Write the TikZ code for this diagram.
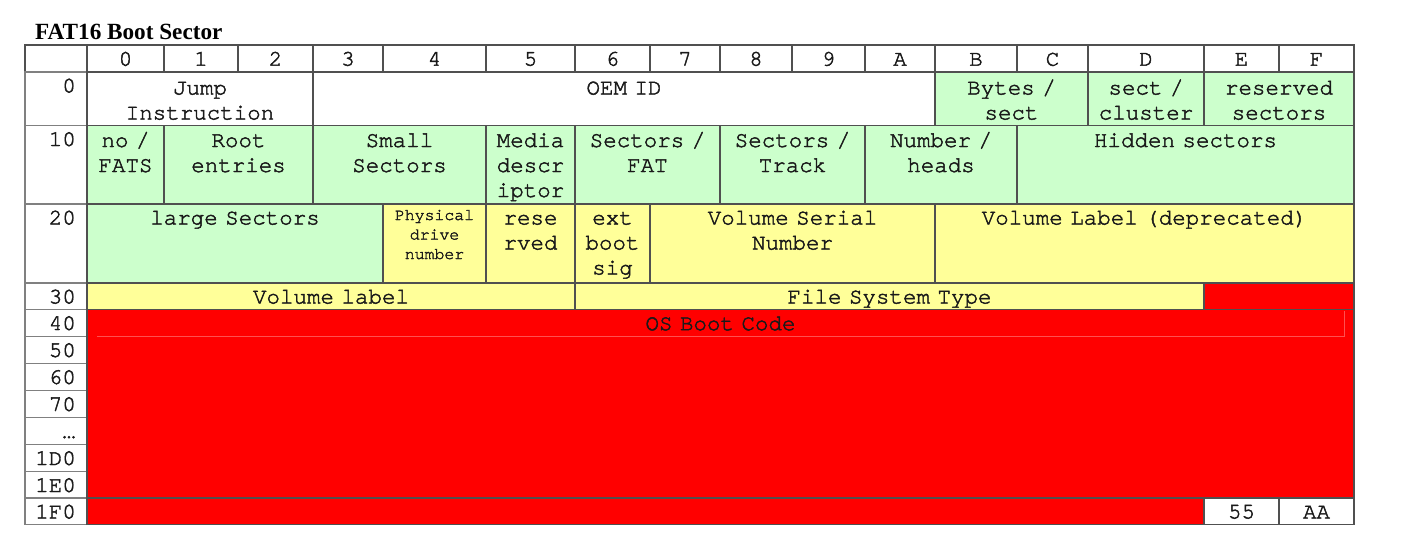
\documentclass[tikz,border=0pt]{standalone}
\usepackage{fontspec}
\newfontfamily\cellfont[FakeBold=2]{TeX Gyre Cursor}
\newfontfamily\headfont{Liberation Serif}
% every space as wide as one character cell
\newcommand\fixedspaces{\spaceskip 0.6em\relax}

\definecolor{fieldgreen}{HTML}{CCFFCC}
\definecolor{fieldyellow}{HTML}{FFFF99}
\definecolor{fieldred}{HTML}{FF0000}
\definecolor{gridline}{HTML}{505050}
\definecolor{labelline}{HTML}{808080}
\definecolor{ink}{HTML}{1A1A1A}
\definecolor{seamred}{HTML}{FF5050}

\tikzset{
  cellbox/.style={draw=gridline, line width=1.5pt, rectangle, inner sep=0pt, outer sep=0pt, anchor=north west},
  labelbox/.style={cellbox, draw=labelline, fill=white},
  celltext/.style={font=\cellfont\fontsize{22.5}{25}\selectfont\fixedspaces, text=ink, inner sep=0pt, align=center, anchor=base},
  smalltext/.style={celltext, font=\cellfont\fontsize{16.5}{19.5}\selectfont\fixedspaces},
  titletext/.style={font=\headfont\bfseries\fontsize{23.2}{27}\selectfont, text=black, inner sep=0pt, anchor=base west},
}

% \field[baseline offset]{name}{x1}{x2}{y1}{y2}{fill}{text style}{text}
\newcommand\field[9][21.5]{%
  \pgfmathsetmacro\fw{#4-#3}%
  \pgfmathsetmacro\fh{#6-#5}%
  \pgfmathsetmacro\fx{(#3+#4)/2}%
  \pgfmathsetmacro\fy{#5+#1}%
  \node[cellbox, fill=#7, minimum width=\fw pt, minimum height=\fh pt] (#2) at (#3,#5) {};
  \node[#8, text width=\fw pt] (#2-text) at (\fx,\fy) {#9};
}

% \rowlabel{name}{y1}{y2}{offset text}
\newcommand\rowlabel[4]{%
  \pgfmathsetmacro\fh{#3-#2}%
  \pgfmathsetmacro\fy{#2+20.5}%
  \node[labelbox, minimum width=62pt, minimum height=\fh pt] (#1) at (25,#2) {};
  \node[celltext, anchor=base east] (#1-text) at (76,\fy) {#4};
}

\begin{document}
\begin{tikzpicture}[x=1pt, y=-1pt]
\useasboundingbox[fill=white] (0,0) rectangle (1413,538);

\node[titletext] (title) at (35,39.3) {FAT16 Boot Sector};

% column header
\field[20.7]{corner}{25}{87}{45}{72}{white}{celltext}{}
\foreach \n/\a/\b in {0/87/164, 1/164/238, 2/238/313, 3/313/383, 4/383/486,
    5/486/575, 6/575/650, 7/650/720, 8/720/792, 9/792/865, A/865/935,
    B/935/1017, C/1017/1088, D/1088/1204, E/1204/1279, F/1279/1354}
  {\field[20.7]{h\n}{\a}{\b}{45}{72}{white}{celltext}{\n}}

% row offsets
\foreach \n/\a/\b/\t in {r00/72/125.5/0, r10/125.5/204/10, r20/204/283/20,
    r30/283/309.5/30, r40/309.5/336.5/40, r50/336.5/363.5/50, r60/363.5/390.5/60,
    r70/390.5/417.5/70, rdots/417.5/444.5/…, r1D0/444.5/471.5/1D0,
    r1E0/471.5/498/1E0, r1F0/498/524.5/1F0}
  {\rowlabel{\n}{\a}{\b}{\t}}

% offset 0x00
\field[22.5]{jump}{87}{313}{72}{125.5}{white}{celltext}{Jump\\Instruction}
\field[22.5]{oemid}{313}{935}{72}{125.5}{white}{celltext}{OEM ID}
\field[22.5]{bytespersect}{935}{1088}{72}{125.5}{fieldgreen}{celltext}{Bytes /\\sect}
\field[22.5]{sectpercluster}{1088}{1204}{72}{125.5}{fieldgreen}{celltext}{sect /\\cluster}
\field[22.5]{reserved}{1204}{1354}{72}{125.5}{fieldgreen}{celltext}{reserved\\sectors}

% offset 0x10
\field{nofats}{87}{164}{125.5}{204}{fieldgreen}{celltext}{no /\\FATS}
\field{rootentries}{164}{313}{125.5}{204}{fieldgreen}{celltext}{Root\\entries}
\field{smallsectors}{313}{486}{125.5}{204}{fieldgreen}{celltext}{Small\\Sectors}
\field{media}{486}{575}{125.5}{204}{fieldgreen}{celltext}{Media\\descr\\iptor}
\field{sectfat}{575}{720}{125.5}{204}{fieldgreen}{celltext}{Sectors /\\FAT}
\field{secttrack}{720}{865}{125.5}{204}{fieldgreen}{celltext}{Sectors /\\Track}
\field{heads}{865}{1017}{125.5}{204}{fieldgreen}{celltext}{Number /\\heads}
\field{hidden}{1017}{1354}{125.5}{204}{fieldgreen}{celltext}{Hidden sectors}

% offset 0x20
\field[20.5]{largesectors}{87}{383}{204}{283}{fieldgreen}{celltext}{large Sectors}
\field[16]{drivenum}{383}{486}{204}{283}{fieldyellow}{smalltext}{Physical\\drive\\number}
\field[20.5]{resvd}{486}{575}{204}{283}{fieldyellow}{celltext}{rese\\rved}
\field[20.5]{extboot}{575}{650}{204}{283}{fieldyellow}{celltext}{ext\\boot\\sig}
\field[20.5]{serial}{650}{935}{204}{283}{fieldyellow}{celltext}{Volume Serial\\Number}
\field[20.5]{vollabelold}{935}{1354}{204}{283}{fieldyellow}{celltext}{Volume Label (deprecated)}

% offset 0x30
\field[20.5]{vollabel}{87}{575}{283}{309.5}{fieldyellow}{celltext}{Volume label}
\field[20.5]{fstype}{575}{1204}{283}{309.5}{fieldyellow}{celltext}{File System Type}
\field[20.5]{codehead}{1204}{1354}{283}{309.5}{fieldred}{celltext}{}

% offsets 0x40 .. 0x1EF
\field[20.7]{bootcode}{87}{1354}{309.5}{498}{fieldred}{celltext}{OS Boot Code}
\draw[seamred, line width=0.8pt] (97,336.5) -- (1344,336.5) -- (1344,310.5);

% offset 0x1F0 and the boot signature
\field[20.5]{codetail}{87}{1204}{498}{524.5}{fieldred}{celltext}{}
\field[20.5]{sig55}{1204}{1279}{498}{524.5}{white}{celltext}{55}
\field[20.5]{sigAA}{1279}{1354}{498}{524.5}{white}{celltext}{AA}
\end{tikzpicture}
\end{document}
